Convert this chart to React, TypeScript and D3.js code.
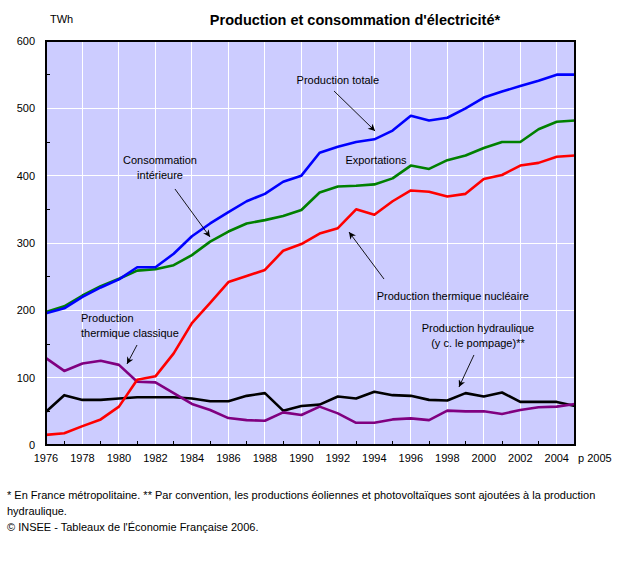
import React from "react";
import * as d3 from "d3";

const years = d3.range(1976, 2006);
const productionTotale = [195.6, 203, 220, 234, 246, 264, 264, 284, 310, 329, 346, 362, 373, 391, 400, 434, 443, 450, 454, 467, 489, 482, 486, 500, 516, 525, 533, 541, 550, 550];
const consommation = [197.5, 206, 222, 236, 247, 259, 261, 267, 282, 302, 317, 329, 334, 340, 349, 375, 384, 385, 387, 396, 415, 410, 423, 430, 441, 450, 450, 469, 480, 482];
const nucleaire = [15, 17.5, 28, 38, 57, 97, 102, 136, 181, 211, 242, 251, 260, 288.5, 298.5, 314, 322, 350, 342, 362, 378, 376, 369, 373, 395, 401, 415, 419, 428, 430];
const classique = [129, 110, 121, 125, 119, 94, 93, 77, 61, 52, 40, 37, 36, 48.5, 44.6, 57, 47, 33, 33, 38, 39.6, 37, 51, 50, 50, 46, 52, 56, 57, 61];
const hydraulique = [49.5, 74, 67, 67, 69, 71, 71, 71, 69, 65, 65, 73, 77, 51, 58, 60, 72, 69, 79, 74, 73, 67, 66, 77, 72, 78, 64, 64, 64, 58];

const yTicks = [0, 100, 200, 300, 400, 500, 600];
const xTickYears = d3.range(1976, 2005, 2);
const xTickLabels = xTickYears.map(String);
const lastLabel = "p 2005";

const series = [
  { name: "hydraulique", values: hydraulique, color: "#000000" },
  { name: "classique", values: classique, color: "#800080" },
  { name: "nucleaire", values: nucleaire, color: "#FF0000" },
  { name: "consommation", values: consommation, color: "#008000" },
  { name: "totale", values: productionTotale, color: "#0000FF" },
];

// annotations in data units
const textLabels = [
  { lines: ["Production totale"], x: 1992.0, y: 542, anchor: "middle" },
  { lines: ["Exportations"], x: 1994.09, y: 423.3, anchor: "middle" },
  { lines: ["Consommation", "intérieure"], x: 1982.25, y: 423.3, anchor: "middle" },
  { lines: ["Production thermique nucléaire"], x: 1994.13, y: 221.3, anchor: "start" },
  { lines: ["Production hydraulique", "(y c. le pompage)**"], x: 1999.68, y: 173.8, anchor: "middle" },
  { lines: ["Production", "thermique classique"], x: 1977.92, y: 188.6, anchor: "start" },
];
const arrows = [
  { x1: 1991.79, y1: 525.7, x2: 1994.04, y2: 466.3 },
  { x1: 1983.07, y1: 380.2, x2: 1984.99, y2: 309 },
  { x1: 1994.53, y1: 246.5, x2: 1992.61, y2: 316.3 },
  { x1: 1999.46, y1: 133.7, x2: 1998.64, y2: 86.1 },
  { x1: 1980.99, y1: 148.5, x2: 1980.44, y2: 120.3 },
];

const footnotes = [
  "* En France métropolitaine. ** Par convention, les productions éoliennes et photovoltaïques sont ajoutées à la production",
  "hydraulique.",
  "© INSEE - Tableaux de l'Économie Française 2006.",
];

const W = 637, H = 569;
const left = 46, right = 575, top = 41, bottom = 445;
const font = "'Liberation Sans', Arial, Helvetica, sans-serif";

export default function App() {
  const x = d3.scaleLinear().domain([1976, 2005]).range([left, right]);
  const y = d3.scaleLinear().domain([0, 600]).range([bottom, top]);
  const line = d3.line<number>().x((_, i) => x(years[i])).y((d) => y(d));
  const lineHeight = 15;

  return (
    <svg width={W} height={H} style={{ position: "absolute", left: 0, top: 0, background: "#fff" }} fontFamily={font}>
      <defs>
        <marker id="ah" viewBox="0 0 10 10" refX="10" refY="5" markerWidth="8" markerHeight="7" markerUnits="userSpaceOnUse" orient="auto">
          <path d="M0,0 L10,5 L0,10 L3,5 Z" fill="#000" />
        </marker>
      </defs>
      <rect x={0} y={0} width={W} height={H} fill="#fff" />
      <rect x={left} y={top} width={right - left} height={bottom - top} fill="#CCCCFF" />
      {xTickYears.filter((yr) => yr > 1976).map((yr) => (
        <line key={"vg" + yr} x1={x(yr)} x2={x(yr)} y1={top} y2={bottom} stroke="#fff" strokeWidth={1} shapeRendering="crispEdges" />
      ))}
      {yTicks.filter((t) => t > 0 && t < 600).map((t) => (
        <line key={"hg" + t} x1={left} x2={right} y1={y(t)} y2={y(t)} stroke="#fff" strokeWidth={1} shapeRendering="crispEdges" />
      ))}
      {d3.range(50, 600, 100).map((t) => (
        <line key={"ym" + t} x1={left} x2={left + 4} y1={y(t)} y2={y(t)} stroke="#000" shapeRendering="crispEdges" />
      ))}
      {d3.range(1977, 2005, 2).map((yr) => (
        <line key={"xm" + yr} x1={x(yr)} x2={x(yr)} y1={bottom} y2={bottom - 4} stroke="#000" shapeRendering="crispEdges" />
      ))}
      {series.map((s) => (
        <path key={s.name} d={line(s.values) || ""} fill="none" stroke={s.color} strokeWidth={2.6} strokeLinejoin="round" />
      ))}
      <rect x={left} y={top} width={right - left} height={bottom - top} fill="none" stroke="#000" strokeWidth={1.3} shapeRendering="crispEdges" />
      {yTicks.map((t) => (
        <text key={"yl" + t} x={35} y={y(t)} dy="0.35em" textAnchor="end" fontSize={11}>{t}</text>
      ))}
      {xTickYears.map((yr, i) => (
        <text key={"xl" + yr} x={x(yr)} y={458} dy="0.35em" textAnchor="middle" fontSize={11}>{xTickLabels[i]}</text>
      ))}
      <text x={578} y={458} dy="0.35em" textAnchor="start" fontSize={11}>{lastLabel}</text>
      <text x={50} y={19} dy="0.35em" fontSize={11}>TWh</text>
      <text x={355} y={20} dy="0.35em" textAnchor="middle" fontSize={14.5} fontWeight="bold">Production et consommation d'électricité*</text>
      {textLabels.map((t, i) => (
        <text key={"tl" + i} fontSize={11} textAnchor={t.anchor as any}>
          {t.lines.map((l, j) => (
            <tspan key={j} x={x(t.x)} y={y(t.y) + j * lineHeight} dy="0.35em">{l}</tspan>
          ))}
        </text>
      ))}
      {arrows.map((a, i) => (
        <line key={"ar" + i} x1={x(a.x1)} y1={y(a.y1)} x2={x(a.x2)} y2={y(a.y2)} stroke="#000" strokeWidth={0.9} markerEnd="url(#ah)" />
      ))}
      {footnotes.map((f, i) => (
        <text key={"fn" + i} x={7} y={495 + i * 16} dy="0.35em" fontSize={11}>{f}</text>
      ))}
    </svg>
  );
}
